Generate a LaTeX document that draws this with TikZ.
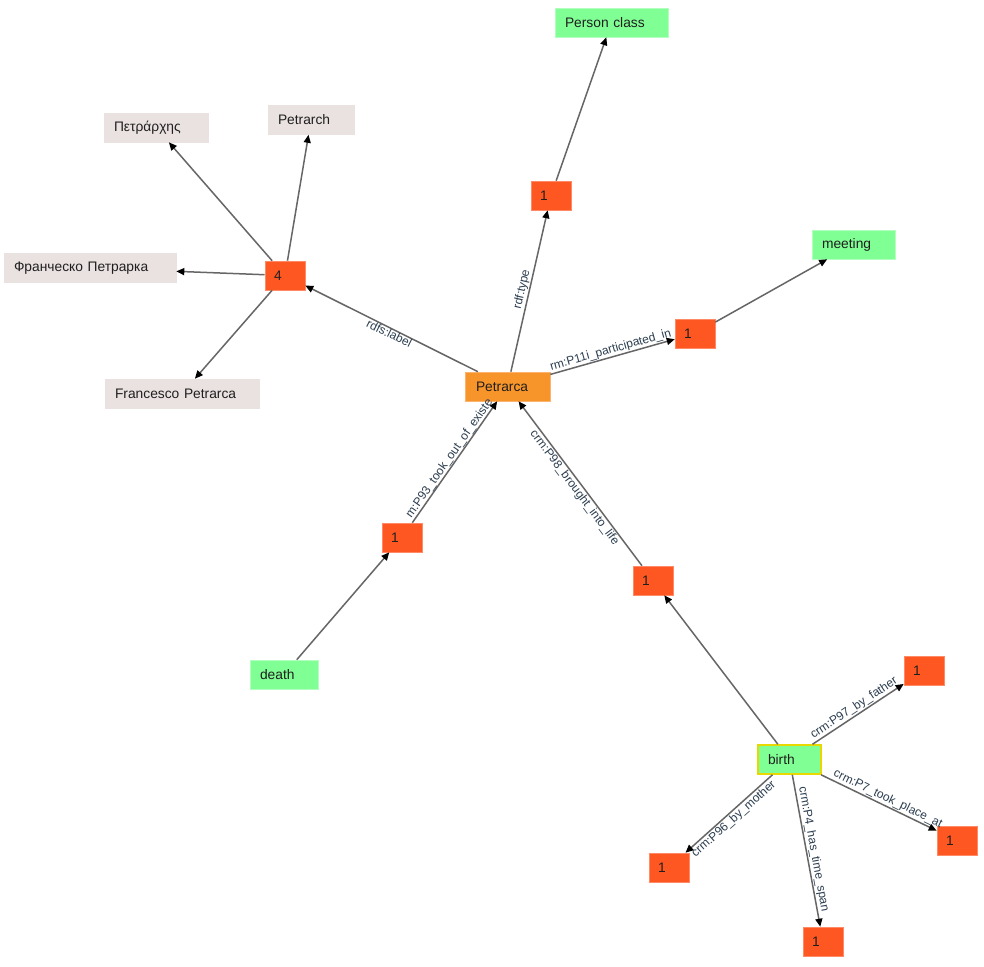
\documentclass[tikz,border=0pt]{standalone}
\usepackage{fontspec}
\setmainfont{Liberation Sans}
\usetikzlibrary{arrows.meta}
\definecolor{deep}{HTML}{FF5722}
\definecolor{deepb}{HTML}{FF8A65}
\definecolor{orng}{HTML}{F8952A}
\definecolor{orngb}{HTML}{FBB36E}
\definecolor{grn}{HTML}{80FF94}
\definecolor{grnb}{HTML}{B3FFC0}
\definecolor{lab}{HTML}{EAE2E0}
\definecolor{ylw}{HTML}{E8D800}
\definecolor{edgegray}{HTML}{666666}
\definecolor{lblcol}{HTML}{2C3E50}
\begin{document}
\begin{tikzpicture}[x=1pt,y=-1pt,
  box/.style={rectangle, minimum height=29pt, inner xsep=10pt, inner ysep=0pt, align=left,
    font=\fontsize{13.8}{16}\selectfont, text=black!88},
  num/.style={box, fill=deep, draw=deepb, line width=0.6pt, text width=22pt, inner xsep=9pt},
  grnbox/.style={box, fill=grn, draw=grnb, line width=0.6pt},
  labbox/.style={box, fill=lab, draw=lab, line width=0.6pt},
  orgbox/.style={box, fill=orng, draw=orngb, line width=0.6pt},
  link/.style={draw=edgegray, line width=1.5pt, -{Triangle[length=8pt,width=7pt,color=black]}},
  lbl/.style={sloped, font=\fontsize{12}{13}\selectfont, text=lblcol, inner sep=1pt}
]
\fill[white] (0,0) rectangle (984,966);
\useasboundingbox (0,0) rectangle (984,966);

\node[grnbox, text width=93pt] (person) at (611.5,22.5) {Person class};
\node[num] (n1) at (551,195.5) {1};
\node[grnbox, text width=63pt] (meeting) at (853.5,244.5) {meeting};
\node[num] (n2) at (695,333.5) {1};
\node[orgbox, text width=63pt, inner xsep=11pt] (petrarca) at (507.5,386.5) {Petrarca};
\node[num] (n4) at (285,275.5) {4};
\node[labbox, text width=84pt] (greek) at (156,127.5) {Πετράρχης};
\node[labbox, text width=66pt] (en) at (311,120) {Petrarch};
\node[labbox, text width=152pt] (ru) at (90,268) {Франческо Петрарка};
\node[labbox, text width=134pt] (it) at (182,393.5) {Francesco Petrarca};
\node[num] (n3) at (402,537.5) {1};
\node[grnbox, text width=48pt] (death) at (284,674.5) {death};
\node[num] (n5) at (653,580.5) {1};
\node[grnbox, draw=ylw, line width=1.5pt, text width=43pt] (birth) at (789.5,759.5) {birth};
\node[num] (n6) at (924,670.5) {1};
\node[num] (n7) at (957,840.5) {1};
\node[num] (n8) at (669,867.5) {1};
\node[num] (n9) at (823,941.5) {1};

\draw[link] (petrarca) -- node[lbl, above] {rdf:type} (n1);
\draw[link] (n1) -- (person);
\draw[link] (petrarca) -- node[lbl, below, inner sep=0pt] {rdfs:label} (n4);
\draw[link] (n4) -- (greek);
\draw[link] (n4) -- (en);
\draw[link] (n4) -- (ru);
\draw[link] (n4) -- (it);
\draw[link] (petrarca) -- node[lbl, above, inner sep=0.5pt, pos=0.5] {rm:P11i\_participated\_in} (n2);
\draw[link] (n2) -- (meeting);
\draw[link] (death) -- (n3);
\draw[link] (n3) -- node[lbl, above, inner sep=0pt] {m:P93\_took\_out\_of\_existe} (petrarca);
\draw[link] (birth) -- (n5);
\draw[link] (n5) -- node[lbl, below] {crm:P98\_brought\_into\_life} (petrarca);
\draw[link] (birth) -- node[lbl, above] {crm:P97\_by\_father} (n6);
\draw[link] (birth) -- node[lbl, above, pos=0.55] {crm:P7\_took\_place\_at} (n7);
\draw[link] (birth) -- node[lbl, below] {crm:P96\_by\_mother} (n8);
\draw[link] (birth) -- node[lbl, above] {crm:P4\_has\_time\_span} (n9);
\end{tikzpicture}
\end{document}
